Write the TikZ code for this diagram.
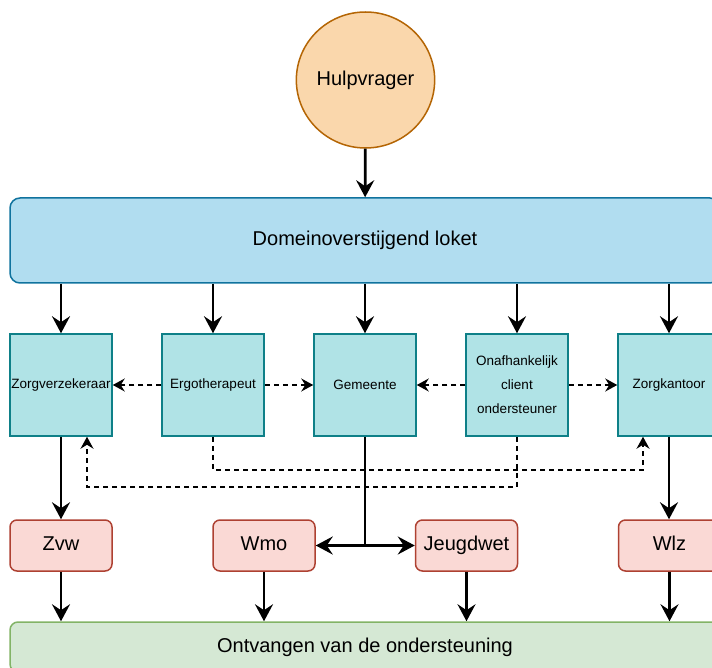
\documentclass[tikz,border=0pt]{standalone}
\usepackage{fontspec}
\setmainfont{Liberation Sans}
\usetikzlibrary{arrows.meta,positioning,calc,shapes.geometric}
\definecolor{hulpfill}{HTML}{FAD7AC}
\definecolor{hulpline}{HTML}{B46504}
\definecolor{loketfill}{HTML}{B1DDF0}
\definecolor{loketline}{HTML}{10739E}
\definecolor{actfill}{HTML}{B0E3E6}
\definecolor{actline}{HTML}{0E8088}
\definecolor{wetfill}{HTML}{FAD9D5}
\definecolor{wetline}{HTML}{AE4132}
\definecolor{ontvfill}{HTML}{D5E8D4}
\definecolor{ontvline}{HTML}{82B366}
\tikzset{
  bigtext/.style={font=\fontsize{20}{24}\selectfont,text height=14.5pt,text depth=4pt},
  actor/.style={draw=actline,fill=actfill,line width=1.5pt,minimum width=102,minimum height=102,
    inner sep=0pt,align=center,font=\fontsize{13.5}{24}\selectfont},
  wet/.style={draw=wetline,fill=wetfill,line width=1.5pt,rounded corners=7pt,minimum width=102,
    minimum height=51,inner sep=0pt,bigtext},
  flow/.style={line width=2.7pt,-{Stealth[length=17pt,width=18pt,inset=6pt]}},
  hint/.style={line width=1.6pt,dash pattern=on 5pt off 4pt,-{Stealth[length=12pt,width=13pt,inset=4pt]}}
}
\begin{document}
\begin{tikzpicture}[x=1pt,y=-1pt]
\useasboundingbox (0,0) rectangle (712,668);
\clip (0,0) rectangle (712,668);
% top: hulpvrager and loket
\node[ellipse,draw=hulpline,fill=hulpfill,line width=1.5pt,inner sep=0pt,minimum width=135,minimum height=136,bigtext] (hulp) at (365.5,80) {Hulpvrager};
\node[draw=loketline,fill=loketfill,line width=1.5pt,rounded corners=10pt,minimum width=710,minimum height=85,bigtext] (loket) at (365,240.5) {Domeinoverstijgend loket};
\draw[flow] (hulp) -- (loket);
% row of actors
\node[actor] (zorgv) at (61,385) {Zorgverzekeraar};
\node[actor] (ergo) at (213,385) {Ergotherapeut};
\node[actor] (gem) at (365,385) {Gemeente};
\node[actor] (onaf) at (517,385) {Onafhankelijk\\client\\ondersteuner};
\node[actor] (zorgk) at (669,385) {Zorgkantoor};
\foreach \n in {zorgv,ergo,gem,onaf,zorgk}
\draw[flow] (\n.north |- loket.south) -- (\n.north);
% dashed hints
\draw[hint] (ergo) -- (zorgv);
\draw[hint] (ergo) -- (gem);
\draw[hint] (onaf) -- (gem);
\draw[hint] (onaf) -- (zorgk);
\draw[hint] (ergo.south) -- ++(0,33) -| ([xshift=-26pt]zorgk.south);
\draw[hint] (onaf.south) -- ++(0,50) -| ([xshift=26pt]zorgv.south);
% laws
\node[wet] (zvw) at (61,545.5) {Zvw};
\node[wet] (wmo) at (264,545.5) {Wmo};
\node[wet] (jeugd) at (466.5,545.5) {Jeugdwet};
\node[wet] (wlz) at (669.5,545.5) {Wlz};
\draw[flow] (zorgv) -- (zvw);
\draw[flow] (zorgk.south) -- (zorgk.south |- wlz.north);
\coordinate (split) at (gem.south |- wmo.east);
\draw[line width=2.7pt] (gem.south) -- (split);
\draw[flow] (split) -- (wmo.east);
\draw[flow] (split) -- (jeugd.west);
% bottom
\node[draw=ontvline,fill=ontvfill,line width=1.5pt,rounded corners=8pt,minimum width=710,minimum height=50,bigtext] (ontv) at (365,647) {Ontvangen van de ondersteuning};
\foreach \n in {zvw,wmo,jeugd,wlz}
\draw[flow] (\n.south) -- (\n.south |- ontv.north);
\end{tikzpicture}
\end{document}
